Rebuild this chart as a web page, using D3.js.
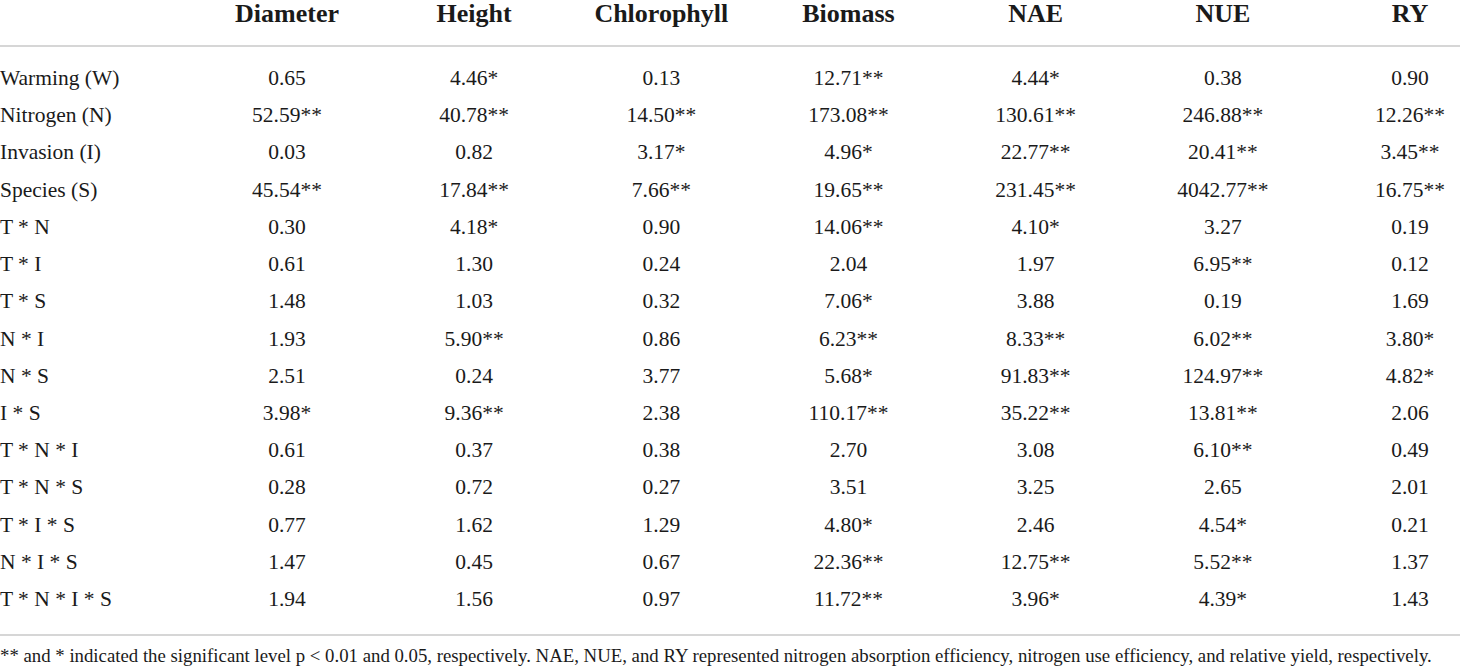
<!DOCTYPE html>
<html>
<head>
<meta charset="utf-8">
<script src="https://cdn.jsdelivr.net/npm/d3@7"></script>
<style>
  body { margin: 0; background: #fff; }
  svg text { font-family: "Liberation Serif", "DejaVu Serif", serif; fill: #1a1a1a; }
</style>
</head>
<body>
<svg id="main_svg"></svg>
<script>
const W = 1460;
const H = 669;

const columns = ['Diameter', 'Height', 'Chlorophyll', 'Biomass', 'NAE', 'NUE', 'RY'];
const effects = ['Warming (W)', 'Nitrogen (N)', 'Invasion (I)', 'Species (S)', 'T * N', 'T * I', 'T * S',
	'N * I', 'N * S', 'I * S', 'T * N * I', 'T * N * S', 'T * I * S', 'N * I * S', 'T * N * I * S'];

// one array per column, same order as effects
const diameter = ['0.65', '52.59**', '0.03', '45.54**', '0.30', '0.61', '1.48', '1.93', '2.51', '3.98*', '0.61', '0.28', '0.77', '1.47', '1.94'];
const height = ['4.46*', '40.78**', '0.82', '17.84**', '4.18*', '1.30', '1.03', '5.90**', '0.24', '9.36**', '0.37', '0.72', '1.62', '0.45', '1.56'];
const chlorophyll = ['0.13', '14.50**', '3.17*', '7.66**', '0.90', '0.24', '0.32', '0.86', '3.77', '2.38', '0.38', '0.27', '1.29', '0.67', '0.97'];
const biomass = ['12.71**', '173.08**', '4.96*', '19.65**', '14.06**', '2.04', '7.06*', '6.23**', '5.68*', '110.17**', '2.70', '3.51', '4.80*', '22.36**', '11.72**'];
const nae = ['4.44*', '130.61**', '22.77**', '231.45**', '4.10*', '1.97', '3.88', '8.33**', '91.83**', '35.22**', '3.08', '3.25', '2.46', '12.75**', '3.96*'];
const nue = ['0.38', '246.88**', '20.41**', '4042.77**', '3.27', '6.95**', '0.19', '6.02**', '124.97**', '13.81**', '6.10**', '2.65', '4.54*', '5.52**', '4.39*'];
const ry = ['0.90', '12.26**', '3.45**', '16.75**', '0.19', '0.12', '1.69', '3.80*', '4.82*', '2.06', '0.49', '2.01', '0.21', '1.37', '1.43'];

const footnote = '** and * indicated the significant level p < 0.01 and 0.05, respectively. NAE, NUE, and RY represented nitrogen absorption efficiency, nitrogen use efficiency, and relative yield, respectively.';

const values = [diameter, height, chlorophyll, biomass, nae, nue, ry];

const svg = d3.select('#main_svg').attr('width', W).attr('height', H);

const x_scale = d3.scalePoint().domain(columns).range([287, 1410]);
const y_scale = d3.scalePoint().domain(effects).range([78, 599]);

// header
svg.selectAll('.head')
	.data(columns)
	.enter()
	.append('text')
	.attr('class', 'head')
	.attr('x', d => x_scale(d))
	.attr('y', 13)
	.attr('text-anchor', 'middle')
	.attr('dominant-baseline', 'central')
	.attr('font-size', '26px')
	.attr('font-weight', 'bold')
	.text(d => d);

// rules
[46, 635].forEach(y => {
	svg.append('line')
		.attr('x1', 0).attr('x2', W)
		.attr('y1', y).attr('y2', y)
		.style('stroke', '#c8c8c8')
		.style('stroke-width', '1.5px');
});

// row labels
svg.selectAll('.rowlab')
	.data(effects)
	.enter()
	.append('text')
	.attr('class', 'rowlab')
	.attr('x', 0)
	.attr('y', d => y_scale(d))
	.attr('dominant-baseline', 'central')
	.attr('font-size', '21.5px')
	.text(d => d);

// cells
columns.forEach((col, ci) => {
	svg.selectAll('.cell_' + ci)
		.data(values[ci])
		.enter()
		.append('text')
		.attr('class', 'cell_' + ci)
		.attr('x', x_scale(col))
		.attr('y', (d, i) => y_scale(effects[i]))
		.attr('text-anchor', 'middle')
		.attr('dominant-baseline', 'central')
		.attr('font-size', '21.5px')
		.text(d => d);
});

svg.append('text')
	.attr('x', 0)
	.attr('y', 655)
	.attr('dominant-baseline', 'central')
	.attr('font-size', '18.8px')
	.text(footnote);
</script>
</body>
</html>
